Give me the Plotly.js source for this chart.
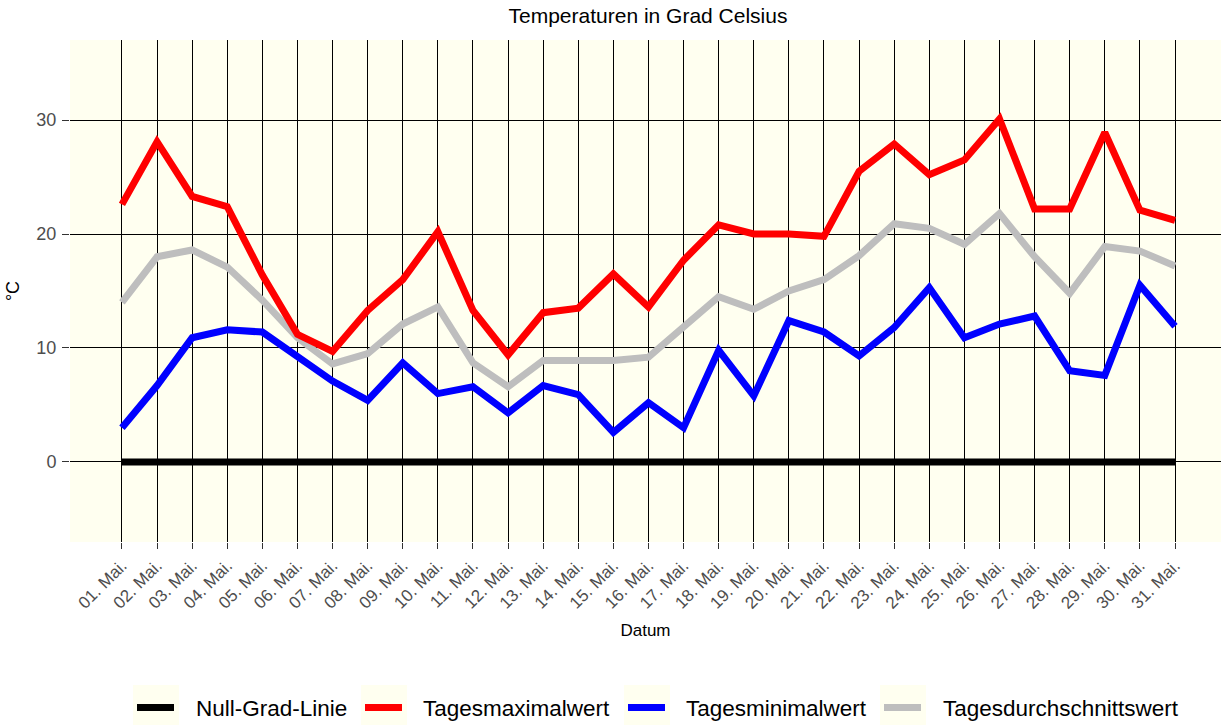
<!DOCTYPE html>
<html>
<head>
<meta charset="utf-8">
<script src="https://cdn.plot.ly/plotly-3.0.1.min.js"></script>
<style>html,body{margin:0;padding:0;overflow:hidden;background:#fff;}</style>
</head>
<body>
<div id="chart" style="width:1221px;height:726px;"></div>
<script>
const dates = ["01. Mai.","02. Mai.","03. Mai.","04. Mai.","05. Mai.","06. Mai.","07. Mai.","08. Mai.","09. Mai.","10. Mai.",
  "11. Mai.","12. Mai.","13. Mai.","14. Mai.","15. Mai.","16. Mai.","17. Mai.","18. Mai.","19. Mai.","20. Mai.",
  "21. Mai.","22. Mai.","23. Mai.","24. Mai.","25. Mai.","26. Mai.","27. Mai.","28. Mai.","29. Mai.","30. Mai.","31. Mai."];
const nullLinie = [0,0,0,0,0,0,0,0,0,0,0,0,0,0,0,0,0,0,0,0,0,0,0,0,0,0,0,0,0,0,0];
const tagesMax = [22.6,28.1,23.3,22.4,16.4,11.2,9.7,13.3,16.0,20.2,13.3,9.4,13.1,13.5,16.5,13.6,17.7,20.8,20.0,20.0,19.8,25.5,27.9,25.2,26.5,30.1,22.2,22.2,28.9,22.1,21.2];
const tagesMin = [3.0,6.7,10.9,11.6,11.4,9.2,7.1,5.4,8.7,6.0,6.6,4.3,6.7,5.9,2.6,5.2,3.0,9.8,5.8,12.4,11.4,9.3,11.8,15.3,10.9,12.1,12.8,8.0,7.6,15.5,11.9];
const tagesMittel = [14.0,18.0,18.6,17.1,14.2,10.9,8.6,9.5,12.1,13.6,8.7,6.6,8.9,8.9,8.9,9.2,11.8,14.5,13.4,15.0,16.0,18.1,20.9,20.5,19.1,21.8,18.0,14.8,18.9,18.5,17.2];
const names = ["Null-Grad-Linie","Tagesmaximalwert","Tagesminimalwert","Tagesdurchschnittswert"];
const colors = ["#000000","#FF0000","#0000FF","#BEBEBE"];

const LW = 7;
const traces = [
  {x: dates, y: tagesMittel, name: names[3], line: {color: colors[3], width: LW}},
  {x: dates, y: tagesMin, name: names[2], line: {color: colors[2], width: LW}},
  {x: dates, y: tagesMax, name: names[1], line: {color: colors[1], width: LW}},
  {x: dates, y: nullLinie, name: names[0], line: {color: colors[0], width: LW}}
].map(t => Object.assign({type: 'scatter', mode: 'lines', hoverinfo: 'skip', showlegend: false}, t));

// Legend drawn as key boxes + key lines + labels (layout geometry in pixels)
const M = {l: 70, r: 0, t: 40, b: 184};
const W = 1221, H = 726;
const pw = W - M.l - M.r, ph = H - M.t - M.b;
const px = v => (v - M.l) / pw;
const py = v => (H - M.b - v) / ph;
const keyLeft = [133, 361, 624, 880];
const textLeft = [195, 422, 685, 942];
const keyW = 46, keyTop = 685, keyBottom = 725, keyLineY = 707.5;
const shapes = [], annotations = [];
names.forEach((n, i) => {
  shapes.push({type: 'rect', xref: 'paper', yref: 'paper', x0: px(keyLeft[i]), x1: px(keyLeft[i] + keyW),
               y0: py(keyBottom), y1: py(keyTop), fillcolor: '#FFFFF0', line: {width: 0}, layer: 'below'});
  shapes.push({type: 'line', xref: 'paper', yref: 'paper', x0: px(keyLeft[i] + 4), x1: px(keyLeft[i] + 41),
               y0: py(keyLineY), y1: py(keyLineY), line: {color: colors[i], width: 7}});
  annotations.push({xref: 'paper', yref: 'paper', x: px(textLeft[i]), y: py(keyLineY + 1), xanchor: 'left', yanchor: 'middle',
                    text: n, showarrow: false, font: {size: 22.5, color: '#000'}, borderpad: 0});
});

const font = "Liberation Sans, Arial, sans-serif";
const layout = {
  width: W, height: H,
  margin: {l: M.l, r: M.r, t: M.t, b: M.b, autoexpand: false},
  paper_bgcolor: '#FFFFFF',
  plot_bgcolor: '#FFFFF0',
  font: {family: font, color: '#000000'},
  title: {text: 'Temperaturen in Grad Celsius', font: {size: 21, color: '#000'},
          xref: 'container', x: 0.5307, xanchor: 'center', yref: 'container', y: 0.978, yanchor: 'middle'},
  xaxis: {
    type: 'category', range: [-1.48, 31.31],
    showgrid: true, gridcolor: '#000000', gridwidth: 1,
    zeroline: false, showline: false,
    ticks: 'outside', ticklen: 6, tickcolor: '#333333', tickwidth: 1,
    tickangle: -45, tickfont: {size: 17, color: '#4D4D4D'},
    title: {text: 'Datum', font: {size: 17, color: '#000'}, standoff: 12}
  },
  yaxis: {
    range: [-7.02, 37.02], tickvals: [0, 10, 20, 30],
    showgrid: true, gridcolor: '#000000', gridwidth: 1,
    zeroline: false, showline: false,
    ticks: 'outside', ticklen: 7, tickcolor: '#333333', tickwidth: 1,
    ticklabelstandoff: 2,
    tickfont: {size: 18, color: '#4D4D4D'},
    title: {text: '°C', font: {size: 18, color: '#000'}, standoff: 12}
  },
  showlegend: false,
  shapes: shapes,
  annotations: annotations
};
Plotly.newPlot('chart', traces, layout, {displayModeBar: false, staticPlot: true});
</script>
</body>
</html>
